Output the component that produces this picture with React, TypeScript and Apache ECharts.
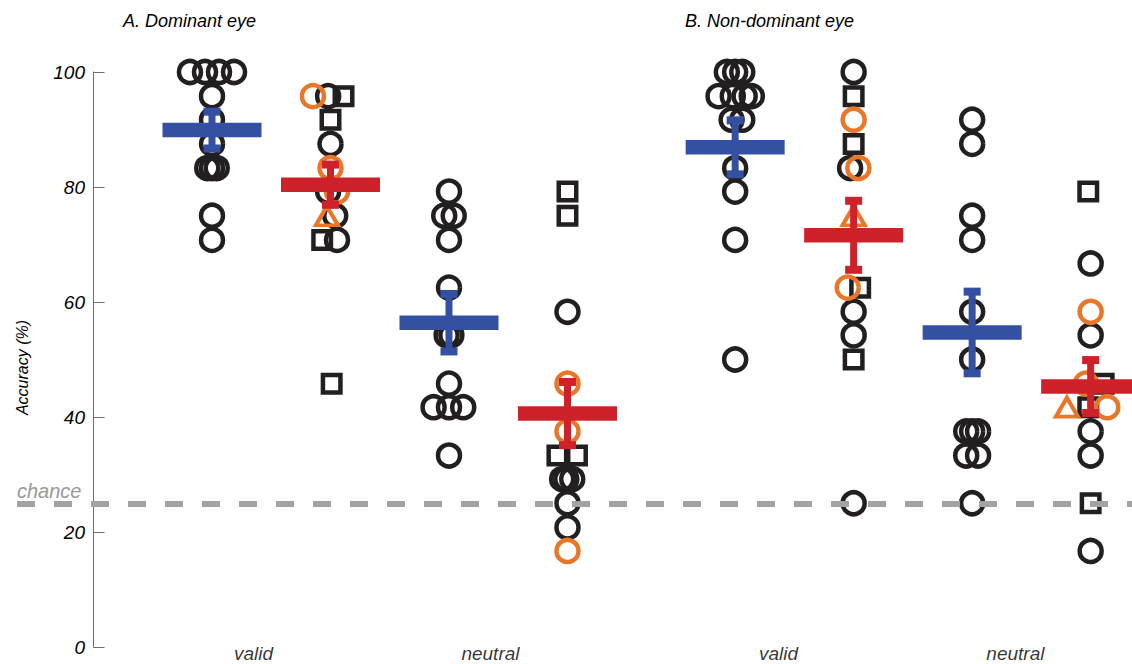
import React, { useEffect, useRef } from "react";
import * as echarts from "echarts";

// ---------- data ----------
const panelTitles = ["A. Dominant eye", "B. Non-dominant eye"];
const conditionLabels = ["valid", "neutral", "valid", "neutral"];
const yTicks = [0, 20, 40, 60, 80, 100];
const chanceLevel = 25;

// position of each of the 8 groups on the (hidden) x scale
const groupX = [1, 2, 3, 4, 5.415, 6.415, 7.415, 8.415];
// where each condition label sits on the x scale
const conditionLabelX = [1.35, 3.35, 5.78, 7.78];

// group means and error (SEM), alternating blue / red
const meanValues = [89.9, 80.4, 56.4, 40.6, 86.9, 71.6, 54.7, 45.3];
const meanErrors = [3.2, 3.5, 5.0, 5.5, 4.7, 6.0, 7.1, 4.6];
const meanColorIndex = [0, 1, 0, 1, 0, 1, 0, 1];

// individual points: [group, jitter, accuracy]
const blackCircles = [
  [0, -0.186, 100], [0, -0.059, 100], [0, 0.059, 100], [0, 0.186, 100],
  [0, 0, 95.8], [0, 0, 91.7], [0, 0, 87.5],
  [0, -0.04, 83.3], [0, 0, 83.3], [0, 0.04, 83.3], [0, 0, 75], [0, 0, 70.8],
  [1, -0.02, 95.8], [1, 0, 87.5], [1, -0.02, 79.2], [1, 0.04, 75], [1, 0.055, 70.8],
  [2, 0, 79.2], [2, -0.04, 75], [2, 0.04, 75], [2, 0, 70.8], [2, 0, 62.5],
  [2, -0.02, 54.2], [2, 0.02, 54.2], [2, 0, 45.8],
  [2, -0.13, 41.7], [2, 0, 41.7], [2, 0.12, 41.7], [2, 0, 33.3],
  [3, 0, 58.3], [3, -0.045, 29.2], [3, -0.01, 29.2], [3, 0.04, 29.2], [3, 0, 25], [3, 0, 20.8],
  [4, -0.07, 100], [4, 0, 100], [4, 0.06, 100],
  [4, -0.14, 95.8], [4, -0.02, 95.8], [4, 0.08, 95.8], [4, 0.14, 95.8],
  [4, -0.03, 91.7], [4, 0.06, 91.7], [4, 0, 83.3], [4, 0, 79.2], [4, 0, 70.8], [4, 0, 50],
  [5, 0, 100], [5, -0.03, 83.3], [5, 0, 58.3], [5, 0, 54.2], [5, 0, 25],
  [6, 0, 91.7], [6, 0, 87.5], [6, 0, 75], [6, 0, 70.8], [6, 0, 58.3], [6, 0, 50],
  [6, -0.05, 37.5], [6, 0, 37.5], [6, 0.05, 37.5], [6, -0.05, 33.3], [6, 0.05, 33.3], [6, 0, 25],
  [7, 0, 66.7], [7, 0, 54.2], [7, 0, 37.5], [7, 0, 33.3], [7, 0, 16.7],
];
const blackSquares = [
  [1, 0.11, 95.8], [1, 0, 91.7], [1, -0.07, 70.8], [1, 0.01, 45.8],
  [3, 0, 79.2], [3, 0, 75], [3, -0.085, 33.3], [3, 0.08, 33.3],
  [5, 0, 95.8], [5, 0, 87.5], [5, 0.055, 62.5], [5, 0, 50],
  [7, -0.02, 79.2], [7, 0.11, 45.8], [7, -0.02, 41.7], [7, 0, 25],
];
const orangeCircles = [
  [1, -0.148, 95.8], [1, 0, 83.3], [1, 0.055, 79.2],
  [3, 0, 45.8], [3, 0, 37.5], [3, 0, 16.7],
  [5, 0, 91.7], [5, 0.04, 83.3], [5, -0.05, 62.5],
  [7, 0, 58.3], [7, -0.04, 45.8], [7, 0.14, 41.7],
];
const orangeTriangles = [
  [1, -0.03, 75], [5, 0, 75], [7, -0.2, 41.7],
];

// ---------- styles ----------
const FONT = "'Liberation Sans', Arial, Helvetica, sans-serif";
const BLACK = "#231f20";
const ORANGE = "#e8772a";
const MEAN_COLORS = ["#3350a2", "#cf2129"];

const toXY = (pts: number[][]) => pts.map((p) => [groupX[p[0]] + p[1], p[2]]);

export default function App() {
  const ref = useRef<HTMLDivElement>(null);
  useEffect(() => {
    if (!ref.current) return;
    const chart = echarts.init(ref.current, undefined, { renderer: "svg" });
    const meanData = meanValues.map((m, i) => [groupX[i], m, meanErrors[i], meanColorIndex[i]]);
    const hollow = (color: string, width: number) => ({
      color: "rgba(0,0,0,0)",
      borderColor: color,
      borderWidth: width,
      opacity: 1,
    });
    const option = {
      animation: false,
      backgroundColor: "#ffffff",
      title: [
        { text: panelTitles[0], left: 118, top: 7 },
        { text: panelTitles[1], left: 680, top: 7 },
      ].map((t) => ({
        ...t,
        textStyle: { fontFamily: FONT, fontStyle: "italic", fontWeight: "normal", fontSize: 18, color: "#000" },
      })),
      grid: { left: 17, top: 72, width: 1115, bottom: 17, containLabel: false },
      xAxis: {
        type: "value",
        min: -0.6456,
        max: 8.764,
        show: false,
      },
      yAxis: {
        type: "value",
        min: yTicks[0],
        max: yTicks[yTicks.length - 1],
        interval: 20,
        offset: -75,
        name: "Accuracy (%)",
        nameLocation: "middle",
        nameGap: 62,
        nameRotate: 90,
        nameTextStyle: {
          fontFamily: FONT,
          fontStyle: "italic",
          fontSize: 16,
          color: "#000",
          padding: [0, 16, 0, 0],
        },
        axisLine: { show: true, lineStyle: { color: "#6d6d6d", width: 1 } },
        axisTick: { show: true, inside: true, length: 11, lineStyle: { color: "#6d6d6d", width: 1 } },
        axisLabel: { fontFamily: FONT, fontStyle: "italic", fontSize: 19, color: "#000", margin: 7 },
        splitLine: { show: false },
      },
      series: [
        {
          type: "scatter",
          data: [],
          z: 1,
          markLine: {
            silent: true,
            symbol: "none",
            data: [{ yAxis: chanceLevel }],
            lineStyle: { color: "#a3a3a3", width: 6, type: [18, 19], opacity: 1 },
            label: {
              show: true,
              position: "insideStartTop",
              formatter: "chance",
              distance: [0, 2],
              fontFamily: FONT,
              fontStyle: "italic",
              fontSize: 20,
              color: "#999999",
            },
          },
        },
        {
          type: "scatter",
          z: 2,
          data: toXY(blackCircles),
          symbol: "circle",
          symbolSize: 22,
          itemStyle: hollow(BLACK, 4.5),
        },
        {
          type: "scatter",
          z: 3,
          data: toXY(blackSquares),
          symbol: "rect",
          symbolSize: 17.5,
          itemStyle: hollow(BLACK, 4.5),
        },
        {
          type: "scatter",
          z: 4,
          data: toXY(orangeCircles),
          symbol: "circle",
          symbolSize: 22,
          itemStyle: hollow(ORANGE, 4.5),
        },
        {
          type: "scatter",
          z: 4,
          data: toXY(orangeTriangles),
          symbol: "triangle",
          symbolSize: [22, 19],
          itemStyle: hollow(ORANGE, 4),
        },
        {
          type: "custom",
          z: 5,
          data: meanData,
          renderItem: (params: any, api: any) => {
            const x = api.value(0);
            const m = api.value(1);
            const e = api.value(2);
            const color = MEAN_COLORS[api.value(3)];
            const c = api.coord([x, m]);
            const top = api.coord([x, m + e]);
            const bot = api.coord([x, m - e]);
            return {
              type: "group",
              children: [
                { type: "rect", shape: { x: c[0] - 49.5, y: c[1] - 7.25, width: 99, height: 14.5 }, style: { fill: color } },
                { type: "rect", shape: { x: c[0] - 3.5, y: top[1], width: 7, height: bot[1] - top[1] }, style: { fill: color } },
                { type: "rect", shape: { x: c[0] - 8.5, y: top[1] - 4, width: 17, height: 8 }, style: { fill: color } },
                { type: "rect", shape: { x: c[0] - 8.5, y: bot[1] - 4, width: 17, height: 8 }, style: { fill: color } },
              ],
            };
          },
        },
        {
          type: "scatter",
          z: 6,
          silent: true,
          symbolSize: 0,
          data: conditionLabels.map((t, i) => ({ value: [conditionLabelX[i], 0], name: t })),
          label: {
            show: true,
            position: "inside",
            offset: [0, 6],
            formatter: (p: any) => p.name,
            fontFamily: FONT,
            fontStyle: "italic",
            fontSize: 19,
            color: "#000",
          },
        },
      ],
    };
    chart.setOption(option as any);
    return () => chart.dispose();
  }, []);
  return (
    <div
      ref={ref}
      style={{ position: "absolute", left: 0, top: 0, width: 1132, height: 664 }}
    />
  );
}
